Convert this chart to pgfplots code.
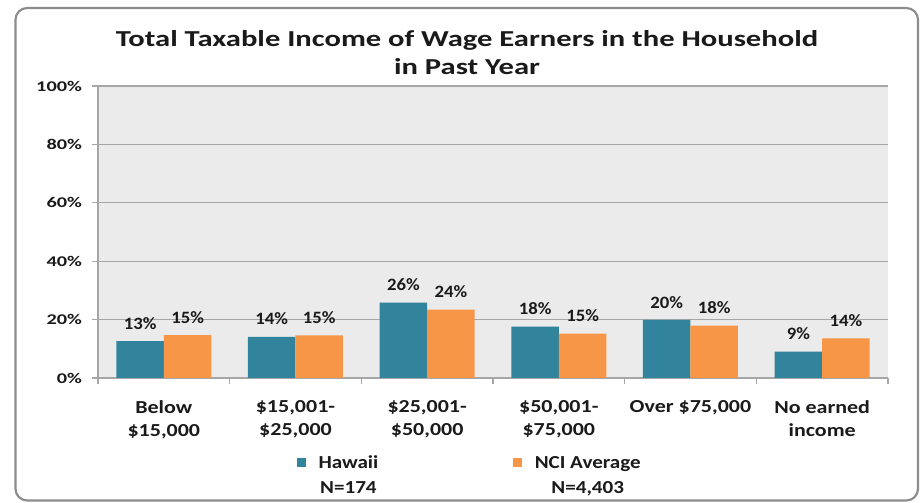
\documentclass[border=0pt]{standalone}
\usepackage{pgfplots}
\pgfplotsset{compat=1.18}
\usepackage{fontspec}
\setmainfont{Carlito}
\newfontfamily\fTitle[FakeStretch=1.34]{Carlito}
\newfontfamily\fY[FakeStretch=1.37]{Carlito}
\newfontfamily\fX[FakeStretch=1.2]{Carlito}
\newfontfamily\fLeg[FakeStretch=1.15]{Carlito}
\newfontfamily\fDat[FakeStretch=1.08]{Carlito}
\definecolor{teal1}{HTML}{31849B}
\definecolor{orange1}{HTML}{F79646}
\definecolor{plotbg}{HTML}{EBEBEB}
\definecolor{gridc}{HTML}{A6A6A6}
\definecolor{framec}{HTML}{8C8C8C}
\definecolor{txt}{HTML}{1A1A1A}
\begin{document}
\begin{tikzpicture}
\useasboundingbox (0,0) rectangle (552.6pt,301.8pt);
\draw[framec, line width=1.3pt, rounded corners=7pt] (9.3pt,1.5pt) rectangle (550.8pt,297pt);
\node[anchor=base, font=\fontsize{13.7}{17}\fTitle\bfseries, text=txt] at (280.2pt,273.8pt) {Total Taxable Income of Wage Earners in the Household};
\node[anchor=base, font=\fontsize{13.7}{17}\fTitle\bfseries, text=txt] at (280.2pt,256.8pt) {in Past Year};
\begin{axis}[
  at={(58.8pt,75pt)}, anchor=south west,
  scale only axis, width=474pt, height=175.2pt,
  ybar=0pt, bar width=28.5pt,
  xmin=-0.5, xmax=5.5, ymin=0, ymax=100,
  axis background/.style={fill=plotbg},
  axis lines*=left,
  axis line style={draw=gridc, line width=0.8pt},
  ymajorgrids, grid style={draw=gridc, line width=0.8pt},
  tick align=outside, major tick length=3.6pt,
  tick style={draw=gridc, line width=0.8pt},
  ytick={0,20,40,60,80,100},
  yticklabels={0\%,20\%,40\%,60\%,80\%,100\%},
  yticklabel style={font=\fontsize{8.9}{10}\fY\bfseries, text=txt, xshift=-2.5pt},
  xtick={-0.5,0.5,1.5,2.5,3.5,4.5,5.5},
  xticklabels={},
  extra x ticks={0,1,2,3,4,5},
  extra x tick labels={{Below\\\$15,000}, {\$15,001-\\\$25,000}, {\$25,001-\\\$50,000}, {\$50,001-\\\$75,000}, {Over \$75,000}, {No earned\\income}},
  extra x tick style={major tick length=0pt, xticklabel style={align=center, anchor=north, yshift=-10pt, font=\fontsize{11}{13.8}\fX\bfseries, text=txt}},
  point meta=explicit symbolic,
  nodes near coords={\pgfplotspointmeta\%},
  every node near coord/.append style={font=\fontsize{10.4}{12}\fDat\bfseries, text=txt, anchor=south, yshift=3.5pt},
  legend style={at={(0.2519,-0.2534)}, anchor=north west, draw=none, fill=none,
    inner sep=0pt, outer sep=0pt,
    legend columns=2, font=\fontsize{11}{14.5}\fLeg\bfseries, text=txt,
    cells={anchor=base west},
    nodes={inner sep=0pt, outer sep=0pt},
    /tikz/every odd column/.append style={column sep=7.5pt},
    /tikz/every even column/.append style={column sep=81pt}},
  legend image code/.code={\fill[#1] (0pt,1pt) rectangle (5.4pt,6.4pt);},
]
\addplot[fill=teal1, draw=none] coordinates {(0,12.6)[13] (1,14.1)[14] (2,25.8)[26] (3,17.6)[18] (4,19.9)[20] (5,9.0)[9]};
\addplot[fill=orange1, draw=none] coordinates {(0,14.7)[15] (1,14.6)[15] (2,23.4)[24] (3,15.2)[15] (4,17.9)[18] (5,13.6)[14]};
\addlegendentry{\begin{tabular}[t]{@{}c@{}}Hawaii\\N=174\end{tabular}}
\addlegendentry{\begin{tabular}[t]{@{}c@{}}NCI Average\\N=4,403\end{tabular}}
\end{axis}
\end{tikzpicture}
\end{document}
